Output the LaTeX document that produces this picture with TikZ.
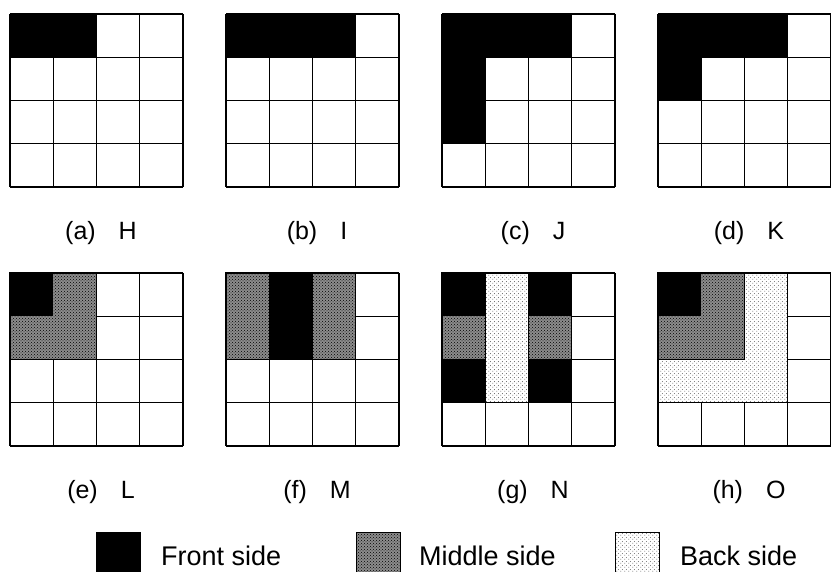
\documentclass[tikz,border=0pt]{standalone}
\usepackage{fontspec}
\setmainfont{Liberation Sans}
\usetikzlibrary{patterns}
\pgfdeclarepatternformonly{sparsedots}{\pgfqpoint{0pt}{0pt}}{\pgfqpoint{4pt}{4pt}}{\pgfqpoint{4pt}{4pt}}{%
  \pgfpathcircle{\pgfqpoint{1pt}{1pt}}{0.6pt}%
  \pgfpathcircle{\pgfqpoint{3pt}{3pt}}{0.6pt}%
  \pgfusepath{fill}}
\tikzset{
  front/.style={fill=black},
  middle/.style={fill=black!45, postaction={pattern=crosshatch dots, pattern color=black}},
  back/.style={fill=white, postaction={pattern=sparsedots, pattern color=black!65}},
  gl/.style={line width=1.2pt},
  lab/.style={anchor=base, inner sep=0pt, font=\fontsize{25}{29}\selectfont},
  legtext/.style={anchor=base west, inner sep=0pt, font=\fontsize{27}{31}\selectfont},
  keybox/.style={draw, line width=0.8pt, minimum size=44pt, inner sep=0pt, anchor=north west}
}
\newcommand\cellgrid{\foreach \i in {0,...,4}{\draw (\i,0) -- (\i,4); \draw (0,\i) -- (4,\i);}}
\begin{document}
\begin{tikzpicture}[x=1pt,y=-1pt]
\useasboundingbox (0,0) rectangle (831,572);
% (a) H
\begin{scope}[shift={(10,14)},x=43.25pt,y=-43.25pt,gl]
  \fill[front] (0,0) rectangle (2,1);
  \cellgrid
\end{scope}
% (b) I
\begin{scope}[shift={(226,14)},x=43.25pt,y=-43.25pt,gl]
  \fill[front] (0,0) rectangle (3,1);
  \cellgrid
\end{scope}
% (c) J
\begin{scope}[shift={(442,14)},x=43.25pt,y=-43.25pt,gl]
  \cellgrid
  \fill[front] (0,0) -- (3,0) -- (3,1) -- (1,1) -- (1,3) -- (0,3) -- cycle;
\end{scope}
% (d) K
\begin{scope}[shift={(658,14)},x=43.25pt,y=-43.25pt,gl]
  \cellgrid
  \fill[front] (0,0) -- (3,0) -- (3,1) -- (1,1) -- (1,2) -- (0,2) -- cycle;
\end{scope}
% (e) L
\begin{scope}[shift={(10,273)},x=43.25pt,y=-43.25pt,gl]
  \cellgrid
  \fill[middle] (0,0) rectangle (2,2);
  \fill[front] (0,0) rectangle (1,1);
  \draw (0,0) rectangle (2,2);
\end{scope}
% (f) M
\begin{scope}[shift={(226,273)},x=43.25pt,y=-43.25pt,gl]
  \cellgrid
  \fill[middle] (0,0) rectangle (3,2);
  \fill[front] (1,0) rectangle (2,2);
  \draw (0,0) rectangle (3,2);
\end{scope}
% (g) N
\begin{scope}[shift={(442,273)},x=43.25pt,y=-43.25pt,gl]
  \cellgrid
  \fill[front] (0,0) rectangle (3,3);
  \fill[middle] (0,1) rectangle (1,2);
  \fill[middle] (2,1) rectangle (3,2);
  \fill[back] (1,0) rectangle (2,3);
  \draw (1,0) rectangle (2,3);
  \draw (0,0) rectangle (3,3);
\end{scope}
% (h) O
\begin{scope}[shift={(658,273)},x=43.25pt,y=-43.25pt,gl]
  \cellgrid
  \fill[back] (0,0) rectangle (3,3);
  \fill[middle] (0,0) rectangle (2,2);
  \fill[front] (0,0) rectangle (1,1);
  \draw (0,0) rectangle (2,2);
  \draw (0,0) rectangle (3,3);
\end{scope}
% labels
\node[lab] (la) at (101,240) {(a)\hspace{23pt}H};
\node[lab] (lb) at (317,240) {(b)\hspace{23pt}I};
\node[lab] (lc) at (533,240) {(c)\hspace{23pt}J};
\node[lab] (ld) at (749,240) {(d)\hspace{23pt}K};
\node[lab] (le) at (101,498) {(e)\hspace{23pt}L};
\node[lab] (lf) at (317,498) {(f)\hspace{23pt}M};
\node[lab] (lg) at (533,498) {(g)\hspace{23pt}N};
\node[lab] (lh) at (749,498) {(h)\hspace{23pt}O};
% legend
\node[keybox, front] (kf) at (96,532) {};
\node[keybox, middle] (km) at (356,532) {};
\node[keybox, back] (kb) at (615,532) {};
\node[legtext] (tf) at (161,565) {Front side};
\node[legtext] (tm) at (419,565) {Middle side};
\node[legtext] (tb) at (680,565) {Back side};
\end{tikzpicture}
\end{document}
